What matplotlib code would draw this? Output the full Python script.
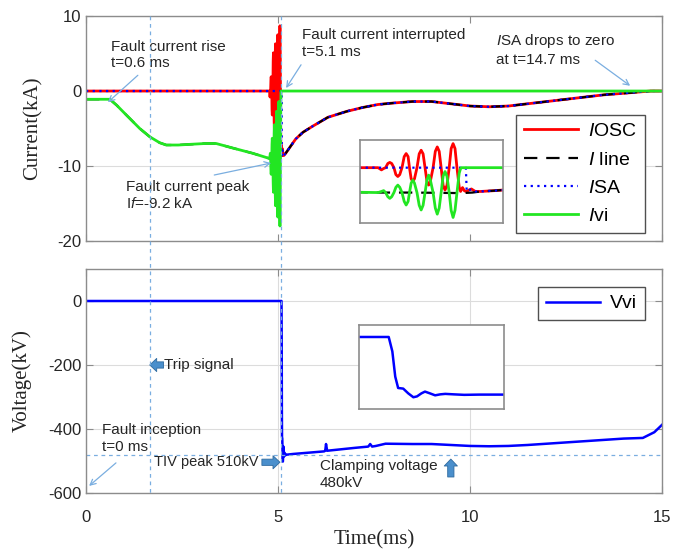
import numpy as np
import matplotlib
matplotlib.use('Agg')
import matplotlib.pyplot as plt
from matplotlib.lines import Line2D
from matplotlib.transforms import blended_transform_factory

plt.rcParams['font.family'] = 'Liberation Sans'
plt.rcParams['mathtext.fontset'] = 'custom'
plt.rcParams['mathtext.it'] = 'Liberation Sans:italic'
plt.rcParams['mathtext.rm'] = 'Liberation Sans'
plt.rcParams['axes.unicode_minus'] = False

# ---- currents (t in ms, I in kA) ----
# fault rise, shared by I_line and I_vi
pre_t = [0, 0.62, 0.8, 1.05, 1.4, 1.66, 1.92, 2.09, 2.4, 2.74, 3.1, 3.39, 3.82, 4.34, 4.78]
pre_i = [-1.1, -1.1, -1.9, -3.2, -5.0, -6.1, -6.9, -7.2, -7.2, -7.1, -7.0, -7.0, -7.6, -8.3, -9.0]

# oscillation before interruption
osc_t = [4.792, 4.800, 4.807, 4.815, 4.822, 4.829, 4.837, 4.844, 4.851, 4.858,
         4.866, 4.874, 4.881, 4.888, 4.893, 4.899, 4.905, 4.911, 4.920, 4.928,
         4.935, 4.942, 4.949, 4.956, 4.962, 4.968, 4.978, 4.986, 4.993, 5.000,
         5.007, 5.014, 5.021, 5.028, 5.036, 5.043, 5.050, 5.057, 5.064, 5.072, 5.077]
osc_red = [-0.8, -0.3, 0.0, 1.5, 1.9, 1.5, 0.0, -2.5, -3.2, -2.5,
           0.0, 4.0, 5.1, 4.0, 0.0, -4.0, -5.0, -4.0, 0.0, 5.0,
           6.3, 5.0, 0.0, -5.0, -6.3, -5.0, 0.0, 5.9, 7.5, 5.9,
           0.0, -6.4, -8.1, -6.4, 0.0, 6.9, 8.7, 6.9, 0.0, -7.0, -8.6]
osc_green = [-8.6, -8.3, -9.0, -10.5, -11.1, -10.5, -9.0, -7.1, -6.3, -7.1,
             -9.0, -12.2, -13.5, -12.2, -9.0, -5.6, -4.5, -5.6, -9.0, -13.6,
             -15.3, -13.6, -9.0, -4.4, -2.7, -4.4, -9.0, -14.6, -16.8, -14.6,
             -9.0, -3.1, -1.4, -3.1, -9.0, -15.4, -18.0, -15.4, -9.0, -2.0, -0.3]

# ringing of I_osc right after interruption
ring_t = [5.084, 5.091, 5.098, 5.107, 5.116, 5.13]
ring_i = [-7.2, -8.4, -8.6, -8.1, -7.7, -8.6]

# I_SA: zero until it takes over the line current
sa_head_t = [0, 5.096, 5.099, 5.107, 5.116, 5.13]
sa_head_i = [0, 0, -8.6, -8.1, -7.8, -8.6]

# line current during oscillation
line_mid_t = [4.9, 5.0, 5.08, 5.12]
line_mid_i = [-9.0, -9.1, -9.2, -9.0]

# line current after interruption (shared by I_line, I_osc, I_SA)
post_t = [5.15, 5.2, 5.35, 5.46, 5.65, 5.9, 6.3, 6.8, 7.2, 7.6, 8.0, 8.5, 9.0, 9.5,
          10.0, 10.5, 11.0, 11.5, 12.0, 12.5, 13.0, 13.5, 14.0, 14.7, 15.0]
post_i = [-8.6, -8.3, -7.2, -6.4, -5.5, -4.7, -3.5, -2.7, -2.2, -1.8, -1.6, -1.4, -1.4, -1.7,
          -2.0, -2.1, -2.0, -1.7, -1.4, -1.1, -0.8, -0.5, -0.3, 0.0, 0.0]

# I_vi after interruption
vi_after_t = [5.08, 15.0]
vi_after_i = [0.0, 0.0]

# ---- voltage across VI (kV) ----
v_t = [0, 5.05, 5.091, 5.096, 5.100, 5.104, 5.111, 5.118, 5.125, 5.130, 5.136, 5.141,
       5.148, 5.155, 5.162, 5.169, 5.181, 5.195, 5.216, 5.25, 5.4, 5.8, 6.2, 6.23, 6.25,
       6.28, 6.6, 7.0, 7.35, 7.4, 7.45, 7.55, 7.8, 8.5, 9.0, 9.5, 10.0, 10.5, 11.0, 11.5,
       12.0, 12.5, 13.0, 13.5, 14.0, 14.5, 14.8, 15.0]
v_kv = [0, 0, 0, -120, -330, -425, -430, -470, -502, -495, -470, -455,
        -470, -486, -478, -474, -478, -482, -480, -480, -478, -474, -470, -468, -447,
        -468, -464, -459, -455, -447, -455, -453, -446, -447, -447, -450, -453, -454, -453, -450,
        -446, -442, -438, -434, -430, -428, -410, -387]

t_marks = [1.66, 5.08]   # trip signal / interruption
clamp_level = -482

# build the series
osc_full_t = [0, 4.78] + osc_t + ring_t + post_t
osc_full_i = [0, 0] + osc_red + ring_i + post_i
line_t = pre_t + line_mid_t + post_t
line_i = pre_i + line_mid_i + post_i
sa_t = sa_head_t + post_t
sa_i = sa_head_i + post_i
vi_t = pre_t + osc_t + vi_after_t
vi_i = pre_i + osc_green + vi_after_i

RED = '#FF0000'
GREEN = '#22E622'
GRAY = '#8c8c8c'
TXT = '#262626'
LBLUE = '#7AAEE0'
ARR_FC = '#4A8FCC'
ARR_EC = '#2F6A9F'


def draw_currents(ax):
    ax.plot(osc_full_t, osc_full_i, color=RED, lw=2, label='$I$OSC')
    ax.plot(line_t, line_i, color='black', ls=(0, (6, 4)), lw=1.6, label='$I$ line')
    ax.plot(sa_t, sa_i, color='blue', ls=(0, (1, 2)), lw=1.6, label='$I$SA')
    ax.plot(vi_t, vi_i, color=GREEN, lw=2, label='$I$vi')


def style_axes(ax):
    for s in ax.spines.values():
        s.set_color(GRAY)
        s.set_linewidth(1)
    ax.tick_params(direction='in', top=True, right=True, colors=GRAY,
                   labelcolor=TXT, labelsize=12, length=5)


fig = plt.figure(figsize=(6.73, 5.51), dpi=100)
ax1 = fig.add_axes([0.1278, 0.5626, 0.8559, 0.4083])
ax2 = fig.add_axes([0.1278, 0.1053, 0.8559, 0.4065])

# ---------- top: currents ----------
draw_currents(ax1)
ax1.set_xlim(0, 15)
ax1.set_ylim(-20, 10)
ax1.set_yticks([-20, -10, 0, 10])
ax1.set_xticks([0, 5, 10, 15])
style_axes(ax1)
ax1.tick_params(labelbottom=False)
ax1.yaxis.grid(True, color='#dcdcdc', lw=0.8)
ax1.set_axisbelow(True)
ax1.set_ylabel('Current(kA)', family='Liberation Serif', fontsize=15, color=TXT)
ax1.yaxis.set_label_coords(-0.075, 0.5)

leg1 = ax1.legend(loc='lower right', bbox_to_anchor=(0.970, 0.036), fancybox=False,
                  edgecolor='#505050', framealpha=1, fontsize=14, handlelength=2.8,
                  labelspacing=0.55, borderpad=0.4, handletextpad=0.5, borderaxespad=0)
leg1.get_frame().set_linewidth(1)

arrow_thin = dict(arrowstyle='->', color=LBLUE, lw=0.9, shrinkA=0, shrinkB=0)
ax1.annotate('', xy=(0.57, -1.5), xytext=(1.35, 2.1), arrowprops=arrow_thin)
ax1.text(0.64, 4.8, 'Fault current rise\nt=0.6 ms', fontsize=11, color=TXT, va='center')
ax1.annotate('', xy=(4.82, -9.6), xytext=(3.34, -11.2), arrowprops=arrow_thin)
ax1.text(1.05, -13.9, 'Fault current peak\nI$f$=-9.2 kA', fontsize=11, color=TXT, va='center')
ax1.annotate('', xy=(5.21, 0.4), xytext=(5.60, 3.5), arrowprops=arrow_thin)
ax1.text(5.62, 6.35, 'Fault current interrupted\nt=5.1 ms', fontsize=11, color=TXT, va='center')
ax1.annotate('', xy=(14.17, 0.7), xytext=(13.26, 4.1), arrowprops=arrow_thin)
ax1.text(10.67, 5.55, '$I$SA drops to zero\nat t=14.7 ms', fontsize=11, color=TXT, va='center')

# inset: zoom on the interruption
axi1 = fig.add_axes([0.535, 0.5953, 0.2125, 0.1506])
draw_currents(axi1)
axi1.set_xlim(4.715, 5.23)
axi1.set_ylim(-20, 10)
axi1.set_xticks([])
axi1.set_yticks([])
for s in axi1.spines.values():
    s.set_color(GRAY)
    s.set_linewidth(1.2)

# ---------- bottom: voltage ----------
ax2.plot(v_t, v_kv, color='blue', lw=1.8, label='Vvi')
ax2.axhline(clamp_level, color=LBLUE, ls=(0, (3, 3)), lw=0.9)
ax2.set_xlim(0, 15)
ax2.set_ylim(-600, 100)
ax2.set_yticks([-600, -400, -200, 0])
ax2.set_xticks([0, 5, 10, 15])
style_axes(ax2)
ax2.tick_params(axis='x', pad=12)
ax2.grid(True, color='#dcdcdc', lw=0.8)
ax2.set_axisbelow(True)
ax2.set_ylabel('Voltage(kV)', family='Liberation Serif', fontsize=15, color=TXT)
ax2.yaxis.set_label_coords(-0.094, 0.5)
ax2.set_xlabel('Time(ms)', family='Liberation Serif', fontsize=15, color=TXT)
ax2.xaxis.set_label_coords(0.5, -0.168)

leg2 = ax2.legend(loc='upper right', bbox_to_anchor=(0.970, 0.92), fancybox=False,
                  edgecolor='#505050', framealpha=1, fontsize=14, handlelength=2.8,
                  borderpad=0.4, handletextpad=0.5, borderaxespad=0)
leg2.get_frame().set_linewidth(1)

block = 'simple,head_length=0.5,head_width=0.95,tail_width=0.45'
ax2.annotate('', xy=(1.66, -200), xytext=(2.02, -200),
             arrowprops=dict(arrowstyle=block, fc=ARR_FC, ec=ARR_EC, lw=0.6, shrinkA=0, shrinkB=0))
ax2.text(2.03, -200, 'Trip signal', fontsize=11, color=TXT, va='center')
ax2.annotate('', xy=(5.05, -504), xytext=(4.58, -504),
             arrowprops=dict(arrowstyle=block, fc=ARR_FC, ec=ARR_EC, lw=0.6, shrinkA=0, shrinkB=0))
ax2.text(4.50, -504, 'TIV peak 510kV', fontsize=10.5, color=TXT, va='center', ha='right')
ax2.annotate('', xy=(9.50, -494), xytext=(9.50, -550),
             arrowprops=dict(arrowstyle=block, fc=ARR_FC, ec=ARR_EC, lw=0.6, shrinkA=0, shrinkB=0))
ax2.text(6.09, -542, 'Clamping voltage\n480kV', fontsize=11, color=TXT, va='center')
ax2.annotate('', xy=(0.08, -578), xytext=(0.78, -506), arrowprops=arrow_thin)
ax2.text(0.41, -430, 'Fault inception\nt=0 ms', fontsize=11, color=TXT, va='center')

axi2 = fig.add_axes([0.5334, 0.2577, 0.2155, 0.1525])
axi2.plot(v_t, v_kv, color='blue', lw=1.8)
axi2.set_xlim(5.05, 5.25)
axi2.set_ylim(-600, 100)
axi2.set_xticks([])
axi2.set_yticks([])
for s in axi2.spines.values():
    s.set_color(GRAY)
    s.set_linewidth(1.2)

# dashed markers running through both panels
tr = blended_transform_factory(ax2.transData, fig.transFigure)
for tm in t_marks:
    fig.add_artist(Line2D([tm, tm], [0.971, 0.105], transform=tr, color=LBLUE,
                          ls=(0, (3, 3)), lw=0.9))

fig.savefig('out.png', dpi=100)
